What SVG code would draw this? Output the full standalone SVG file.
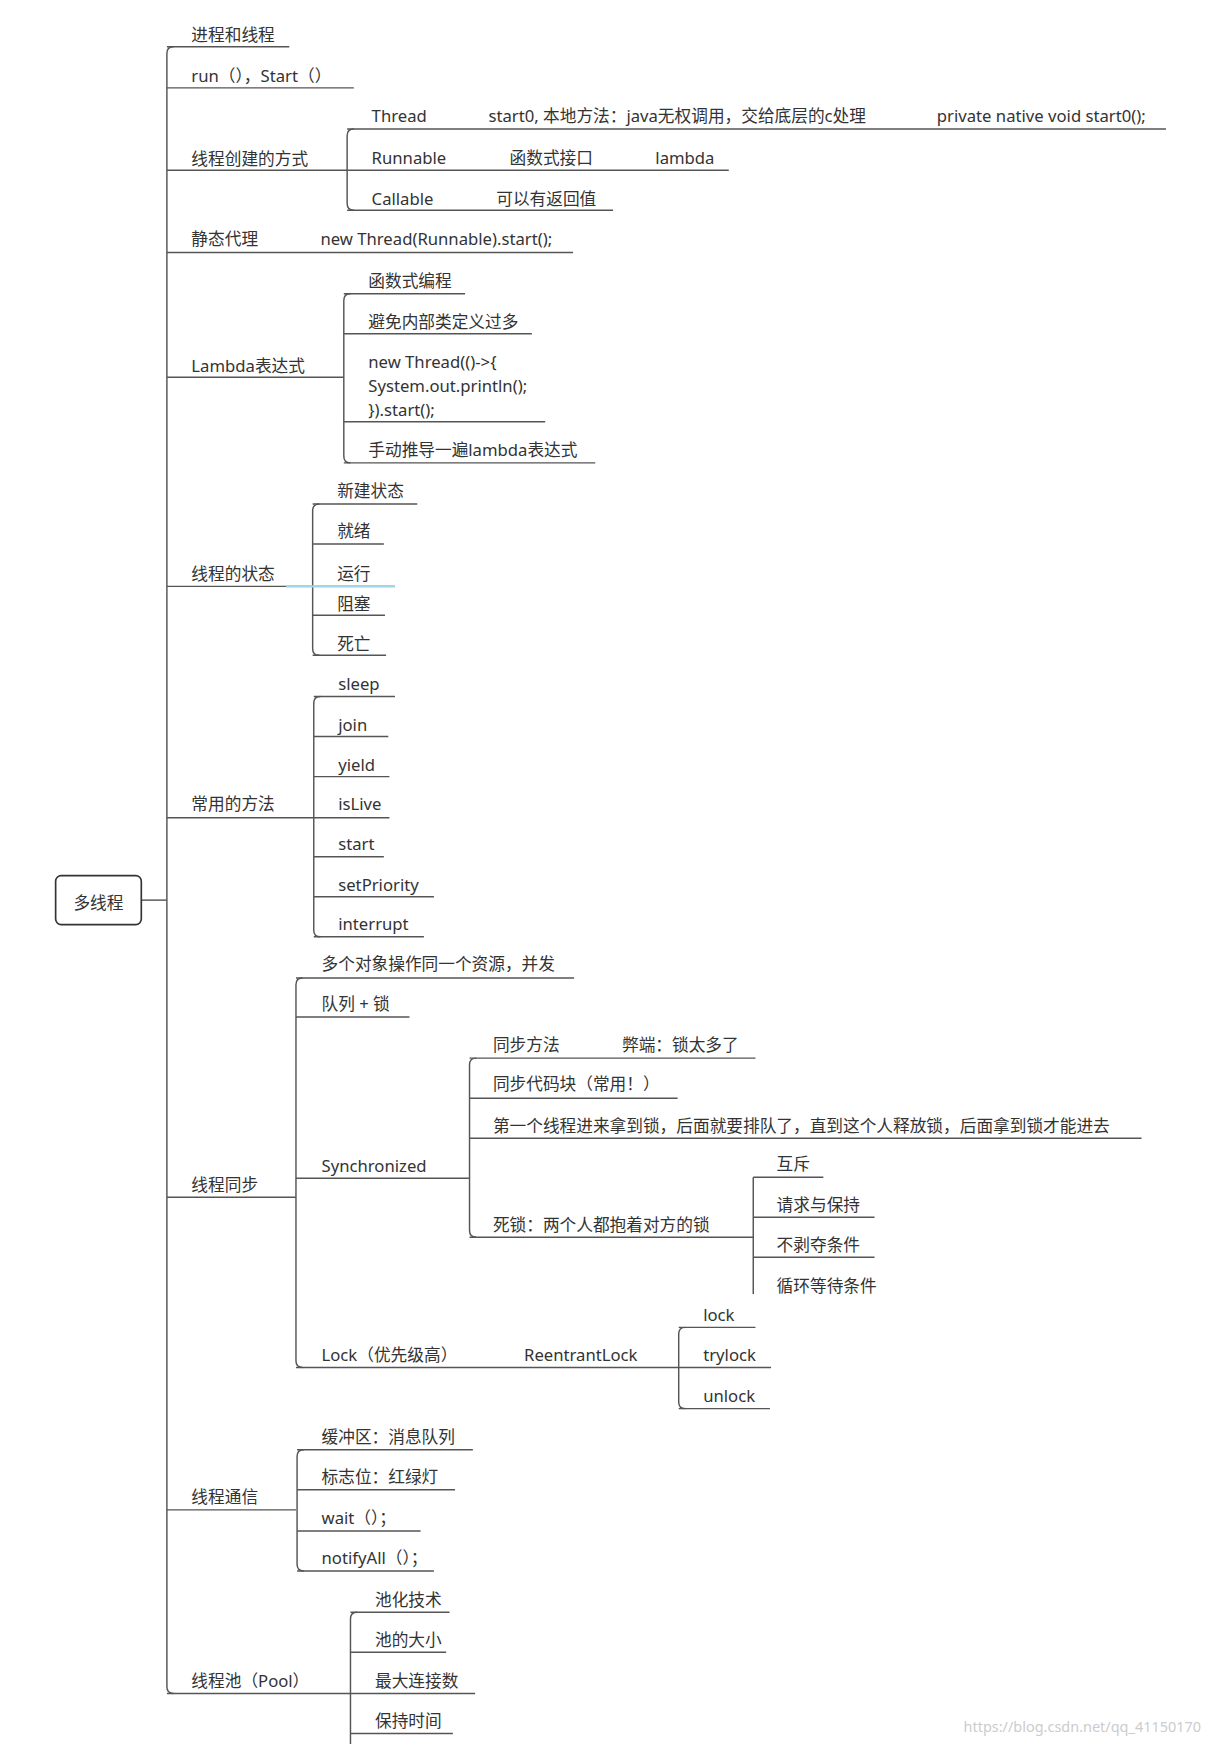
<svg xmlns="http://www.w3.org/2000/svg" width="1215" height="1744" viewBox="0 0 1215 1744">
<style>
text{font-family:"Noto Sans","Noto Sans CJK SC",sans-serif;font-size:15px;fill:#333}
.l{stroke:#555;stroke-width:1.3;fill:none}
.wm{font-size:13px;fill:#ccc}
</style>
<rect width="1215" height="1744" fill="#fff"/>
<g transform="scale(1.11264)">
<g id="connectors" class="l">
<path d="M127 809H150"/>
<path d="M156 42Q150 42 150 48V1516Q150 1522 156 1522"/>
<path d="M150 42H260M150 79H318M150 153H312M150 227H515M150 339H309M150 527H281M150 735H282M150 1076H266M150 1357H266M150 1522H315"/>
<path d="M318 116Q312 116 312 122V183Q312 189 318 189"/>
<path d="M312 116H1048M312 153H655M312 189H551"/>
<path d="M315 264Q309 264 309 270V410Q309 416 315 416"/>
<path d="M309 264H418M309 300H478M309 379H490M309 416H535"/>
<path d="M287 453Q281 453 281 459V583Q281 589 287 589"/>
<path d="M281 453H375M281 489H345M281 527H355M281 553H346M281 589H347"/>
<path d="M288 626Q282 626 282 632V836Q282 842 288 842"/>
<path d="M282 626H355M282 662H349M282 698H350M282 735H350M282 770H345M282 806H390M282 842H381"/>
<path d="M272 879Q266 879 266 885V1223Q266 1229 272 1229"/>
<path d="M266 879H516M266 914H368M266 1059H422M266 1229H610"/>
<path d="M428 951Q422 951 422 957V1106Q422 1112 428 1112"/>
<path d="M422 951H679M422 987H609M422 1023H1026M422 1112H677"/>
<path d="M677 1058V1163M677 1058H740M677 1094H786M677 1130H786"/>
<path d="M616 1193Q610 1193 610 1199V1260Q610 1266 616 1266"/>
<path d="M610 1193H679M610 1229H693M610 1266H692"/>
<path d="M273 1303Q267 1303 267 1309V1406Q267 1412 273 1412"/>
<path d="M267 1303H425M267 1339H409M267 1376H378M267 1412H390"/>
<path d="M321 1449Q315 1449 315 1455V1570"/>
<path d="M315 1449H404M315 1485H401M315 1522H427M315 1558H407"/>
<path d="M257 527H355" stroke="#9fd3e8" stroke-width="2"/>
</g>
<g id="root"><rect x="50" y="787" width="77" height="44" rx="5" fill="#fff" stroke="#333" stroke-width="1.5"/><text x="88.5" y="817" text-anchor="middle" font-size="17">多线程</text></g>
<g id="n1"><text x="172" y="37">进程和线程</text></g>
<g id="n2"><text x="172" y="74">run（），Start（）</text></g>
<g id="n3"><text x="172" y="148">线程创建的方式</text>
<text x="334" y="110">Thread</text><text x="439" y="110">start0, 本地方法：java无权调用，交给底层的c处理</text><text x="842" y="110">private native void start0();</text>
<text x="334" y="147">Runnable</text><text x="458" y="147">函数式接口</text><text x="589" y="147">lambda</text>
<text x="334" y="184">Callable</text><text x="446" y="184">可以有返回值</text></g>
<g id="n4"><text x="172" y="220">静态代理</text><text x="288" y="220">new Thread(Runnable).start();</text></g>
<g id="n5"><text x="172" y="334">Lambda表达式</text>
<text x="331" y="258">函数式编程</text><text x="331" y="295">避免内部类定义过多</text>
<text x="331" y="331">new Thread(()-&gt;{</text><text x="331" y="352">System.out.println();</text><text x="331" y="374">}).start();</text>
<text x="331" y="410">手动推导一遍lambda表达式</text></g>
<g id="n6"><text x="172" y="521">线程的状态</text>
<text x="303" y="447">新建状态</text><text x="303" y="483">就绪</text><text x="303" y="521">运行</text><text x="303" y="548">阻塞</text><text x="303" y="584">死亡</text></g>
<g id="n7"><text x="172" y="728">常用的方法</text>
<text x="304" y="620">sleep</text><text x="304" y="657">join</text><text x="304" y="693">yield</text><text x="304" y="728">isLive</text><text x="304" y="764">start</text><text x="304" y="801">setPriority</text><text x="304" y="836">interrupt</text></g>
<g id="n8"><text x="172" y="1070">线程同步</text>
<text x="289" y="872">多个对象操作同一个资源，并发</text><text x="289" y="908">队列 + 锁</text>
<text x="289" y="1053">Synchronized</text>
<text x="443" y="945">同步方法</text><text x="559" y="945">弊端：锁太多了</text>
<text x="443" y="980">同步代码块（常用！）</text>
<text x="443" y="1017">第一个线程进来拿到锁，后面就要排队了，直到这个人释放锁，后面拿到锁才能进去</text>
<text x="443" y="1106">死锁：两个人都抱着对方的锁</text>
<text x="698" y="1052">互斥</text><text x="698" y="1088">请求与保持</text><text x="698" y="1124">不剥夺条件</text><text x="698" y="1161">循环等待条件</text>
<text x="289" y="1223">Lock（优先级高）</text><text x="471" y="1223">ReentrantLock</text>
<text x="632" y="1187">lock</text><text x="632" y="1223">trylock</text><text x="632" y="1260">unlock</text></g>
<g id="n9"><text x="172" y="1351">线程通信</text>
<text x="289" y="1297">缓冲区：消息队列</text><text x="289" y="1333">标志位：红绿灯</text><text x="289" y="1370">wait（）；</text><text x="289" y="1406">notifyAll（）；</text></g>
<g id="n10"><text x="172" y="1516">线程池（Pool）</text>
<text x="337" y="1443">池化技术</text><text x="337" y="1479">池的大小</text><text x="337" y="1516">最大连接数</text><text x="337" y="1552">保持时间</text></g>
<text class="wm" x="866" y="1557">https://blog.csdn.net/qq_41150170</text>
</g>
</svg>
